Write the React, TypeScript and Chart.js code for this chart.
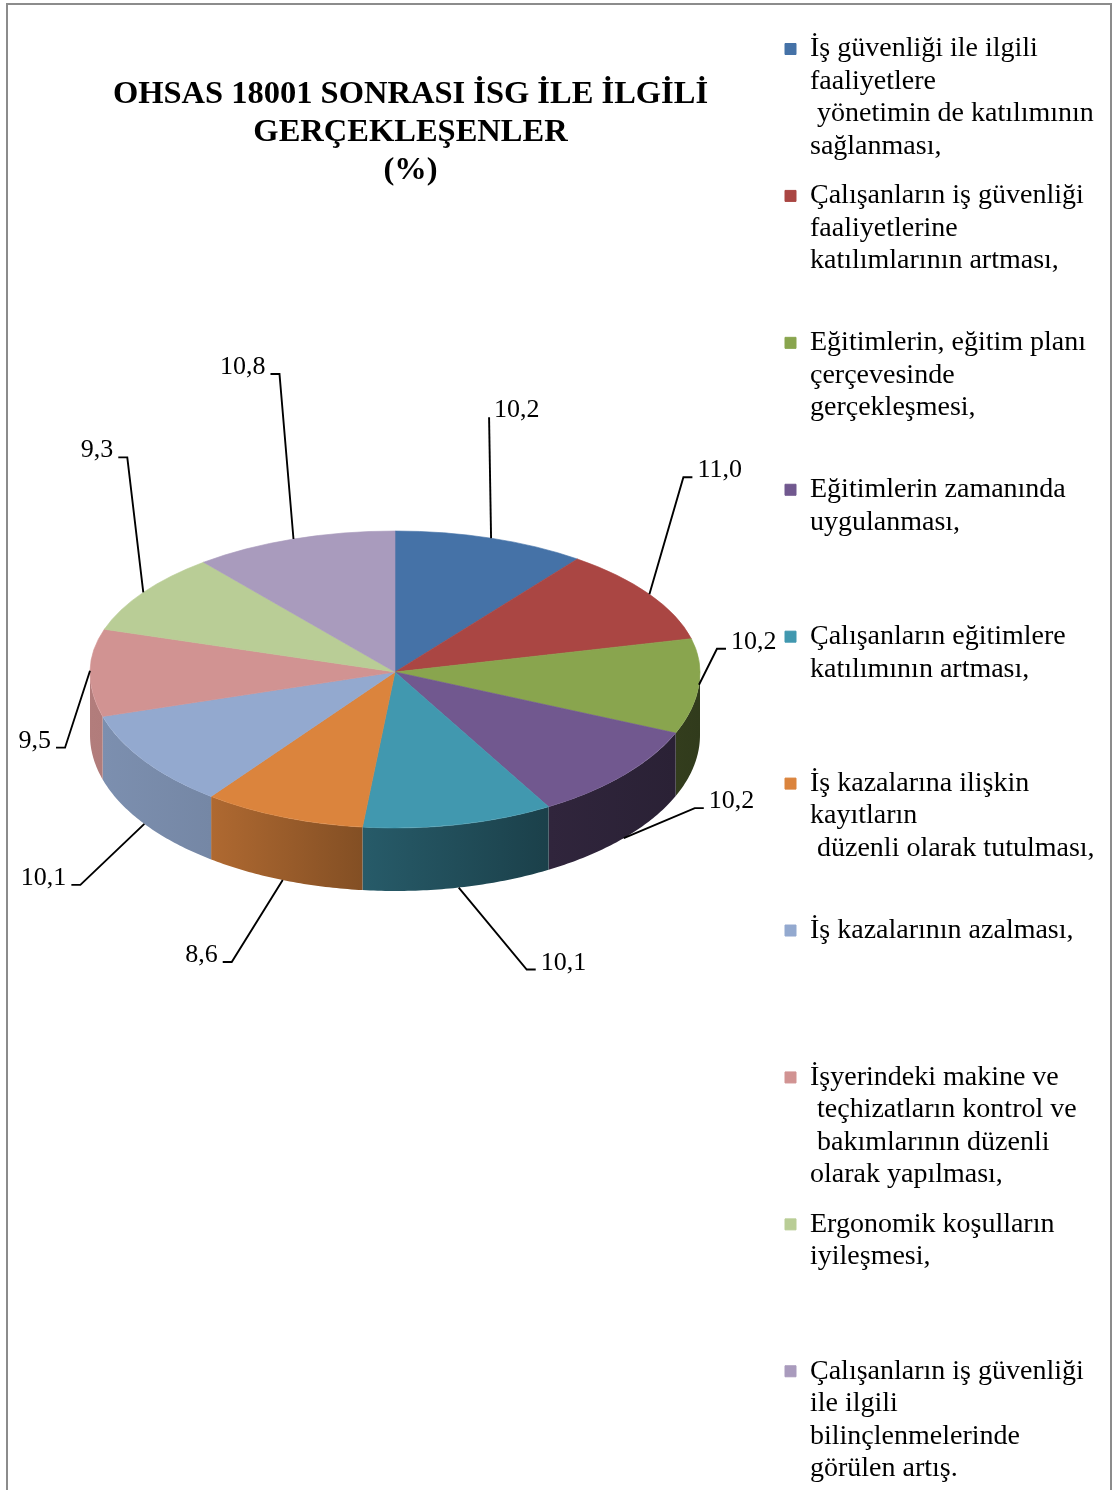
import React, { useEffect, useRef } from 'react';
import { Chart, registerables } from 'chart.js';

Chart.register(...registerables);

// ---------- data ----------
const TITLE_LINES = ['OHSAS 18001 SONRASI İSG İLE İLGİLİ', 'GERÇEKLEŞENLER', '(%)'];

const CATEGORIES: string[][] = [
  ['İş güvenliği ile ilgili', 'faaliyetlere', ' yönetimin de katılımının', 'sağlanması,'],
  ['Çalışanların iş güvenliği', 'faaliyetlerine', 'katılımlarının artması,'],
  ['Eğitimlerin, eğitim planı', 'çerçevesinde', 'gerçekleşmesi,'],
  ['Eğitimlerin zamanında', 'uygulanması,'],
  ['Çalışanların eğitimlere', 'katılımının artması,'],
  ['İş kazalarına ilişkin', 'kayıtların', ' düzenli olarak tutulması,'],
  ['İş kazalarının azalması,'],
  ['İşyerindeki makine ve', ' teçhizatların kontrol ve', ' bakımlarının düzenli', 'olarak yapılması,'],
  ['Ergonomik koşulların', 'iyileşmesi,'],
  ['Çalışanların iş güvenliği', 'ile ilgili', 'bilinçlenmelerinde', 'görülen artış.'],
];

const VALUES = [10.2, 11.0, 10.2, 10.2, 10.1, 8.6, 10.1, 9.5, 9.3, 10.8];

const COLORS = ['#4572A7', '#AA4643', '#89A54E', '#71588F', '#4198AF', '#DB843D', '#93A9CF', '#D19392', '#B9CD96', '#A99BBD'];

// ---------- layout / style ----------
const W = 1113;
const H = 1560;
const FONT = '"Liberation Serif", "Times New Roman", serif';
const CX = 395;
const CY = 672;
const RX = 305;
const RY_TOP = 141;
const RY_BOTTOM = 156;
const DEPTH = 63;
const LEGEND_LEFT = 768;
const LEGEND_LINES = 4;
// leader-line elbow offsets from each slice's anchor point (manual label placement)
const LABEL_OFFSETS: [number, number][] = [
  [-2, -121], [34, -117], [18, -36], [71, -30], [68, 82],
  [-51, 82], [-64, 61], [-25, 77], [-16, -135], [-14, -165],
];
const SHADE_STOPS: [number, number][] = [[90, 0.85], [210, 0.8], [360, 0.6], [550, 0.42], [700, 0.36]];

function shadeAt(x: number): number {
  if (x <= SHADE_STOPS[0][0]) return SHADE_STOPS[0][1];
  for (let i = 1; i < SHADE_STOPS.length; i++) {
    const [x1, f1] = SHADE_STOPS[i];
    const [x0, f0] = SHADE_STOPS[i - 1];
    if (x <= x1) return f0 + (f1 - f0) * (x - x0) / (x1 - x0);
  }
  return SHADE_STOPS[SHADE_STOPS.length - 1][1];
}

function shadeColor(hex: string, f: number): string {
  const n = parseInt(hex.slice(1), 16);
  const r = Math.round(((n >> 16) & 255) * f);
  const g = Math.round(((n >> 8) & 255) * f);
  const b = Math.round((n & 255) * f);
  return `rgb(${r},${g},${b})`;
}

const pie3d = {
  id: 'pie3d',
  afterLayout(chart: any) {
    const lg = chart.legend;
    if (lg) {
      lg.left = LEGEND_LEFT;
      lg.right = W;
      lg.width = W - LEGEND_LEFT;
    }
    const tb = chart.titleBlock;
    if (tb) {
      tb.right = LEGEND_LEFT;
      tb.width = tb.right - tb.left;
    }
  },
  beforeDatasetsDraw(chart: any) {
    const ctx: CanvasRenderingContext2D = chart.ctx;
    const meta = chart.getDatasetMeta(0);
    const arcs: any[] = meta.data;
    if (!arcs.length) return false;
    const a0 = arcs[0];
    const ox = a0.x;
    const oy = a0.y;
    const R = a0.outerRadius;

    // side walls (front half only)
    arcs.forEach((arc, i) => {
      const a = Math.max(arc.startAngle, 0);
      const b = Math.min(arc.endAngle, Math.PI);
      if (b <= a) return;
      const steps = Math.max(8, Math.ceil((b - a) * 80));
      ctx.beginPath();
      for (let k = 0; k <= steps; k++) {
        const t = a + (b - a) * k / steps;
        const x = CX + RX * Math.cos(t);
        const y = CY + RY_BOTTOM * Math.sin(t);
        if (k === 0) ctx.moveTo(x, y); else ctx.lineTo(x, y);
      }
      for (let k = steps; k >= 0; k--) {
        const t = a + (b - a) * k / steps;
        ctx.lineTo(CX + RX * Math.cos(t), CY + RY_BOTTOM * Math.sin(t) + DEPTH);
      }
      ctx.closePath();
      const xl = CX + RX * Math.cos(b);
      const xr = CX + RX * Math.cos(a);
      const g = ctx.createLinearGradient(xl, 0, xr + 0.01, 0);
      g.addColorStop(0, shadeColor(COLORS[i], shadeAt(xl)));
      g.addColorStop(1, shadeColor(COLORS[i], shadeAt(xr)));
      ctx.fillStyle = g;
      ctx.fill();
    });

    // top surface, drawn by the library with a perspective squash
    const halves = [
      { top: true, ry: RY_TOP },
      { top: false, ry: RY_BOTTOM },
    ];
    halves.forEach((h) => {
      ctx.save();
      ctx.beginPath();
      if (h.top) ctx.rect(0, 0, W, CY); else ctx.rect(0, CY, W, H - CY);
      ctx.clip();
      ctx.translate(CX, CY);
      ctx.scale(RX / R, h.ry / R);
      ctx.translate(-ox, -oy);
      meta.controller.draw();
      ctx.restore();
    });
    return false;
  },
  afterDraw(chart: any) {
    const ctx: CanvasRenderingContext2D = chart.ctx;
    const arcs: any[] = chart.getDatasetMeta(0).data;
    ctx.save();
    ctx.font = `26px ${FONT}`;
    ctx.fillStyle = '#000';
    ctx.strokeStyle = '#000';
    ctx.lineWidth = 1.9;
    arcs.forEach((arc, i) => {
      const mid = (arc.startAngle + arc.endAngle) / 2;
      const c = Math.cos(mid);
      const s = Math.sin(mid);
      const ax = CX + RX * c;
      const ay = CY + (s < 0 ? RY_TOP : RY_BOTTOM) * s + DEPTH * Math.min(1, Math.max(0, (s - 0.1) / 0.2));
      const [dx, dy] = LABEL_OFFSETS[i];
      const ex = ax + dx;
      const ey = ay + dy;
      const dir = ex >= CX ? 1 : -1;
      const hook = Math.abs(ex - CX) > 100 ? 9 : 0;
      ctx.beginPath();
      ctx.moveTo(ax, ay);
      ctx.lineTo(ex, ey);
      ctx.lineTo(ex + dir * hook, ey);
      ctx.stroke();
      ctx.textAlign = dir > 0 ? 'left' : 'right';
      ctx.textBaseline = 'alphabetic';
      ctx.fillText(VALUES[i].toFixed(1).replace('.', ','), ex + dir * (hook + 5), ey);
    });
    ctx.strokeStyle = '#8c8c8c';
    ctx.lineWidth = 2;
    ctx.strokeRect(7, 4, 1104, H);
    ctx.restore();
  },
};

export default function App() {
  const ref = useRef<HTMLCanvasElement | null>(null);

  useEffect(() => {
    if (!ref.current) return;
    const labels = CATEGORIES.map((l) => [...l, ...Array(Math.max(0, LEGEND_LINES - l.length)).fill('')]);
    const chart = new Chart(ref.current, {
      type: 'pie',
      data: {
        labels,
        datasets: [
          {
            data: VALUES,
            backgroundColor: COLORS,
            borderColor: COLORS,
            borderWidth: 1,
          },
        ],
      },
      options: {
        responsive: false,
        animation: false,
        devicePixelRatio: 1,
        layout: { padding: { top: 18, left: 53, right: 0, bottom: 0 } },
        plugins: {
          legend: {
            position: 'right',
            align: 'start',
            labels: {
              boxWidth: 11,
              boxHeight: 11,
              padding: 17,
              color: '#000',
              font: { family: FONT, size: 28, lineHeight: 1.16 },
            },
          },
          title: {
            display: true,
            text: TITLE_LINES,
            fullSize: false,
            color: '#000',
            padding: { top: 57, bottom: 0 },
            font: { family: FONT, size: 32.5, weight: 'bold', lineHeight: 1.18 },
          },
          tooltip: { enabled: false },
        },
      } as any,
      plugins: [pie3d as any],
    });
    return () => chart.destroy();
  }, []);

  return (
    <div style={{ position: 'absolute', left: 0, top: 0, width: W, height: 1490, overflow: 'hidden', background: '#fff' }}>
      <canvas ref={ref} width={W} height={H} style={{ display: 'block' }} />
    </div>
  );
}
